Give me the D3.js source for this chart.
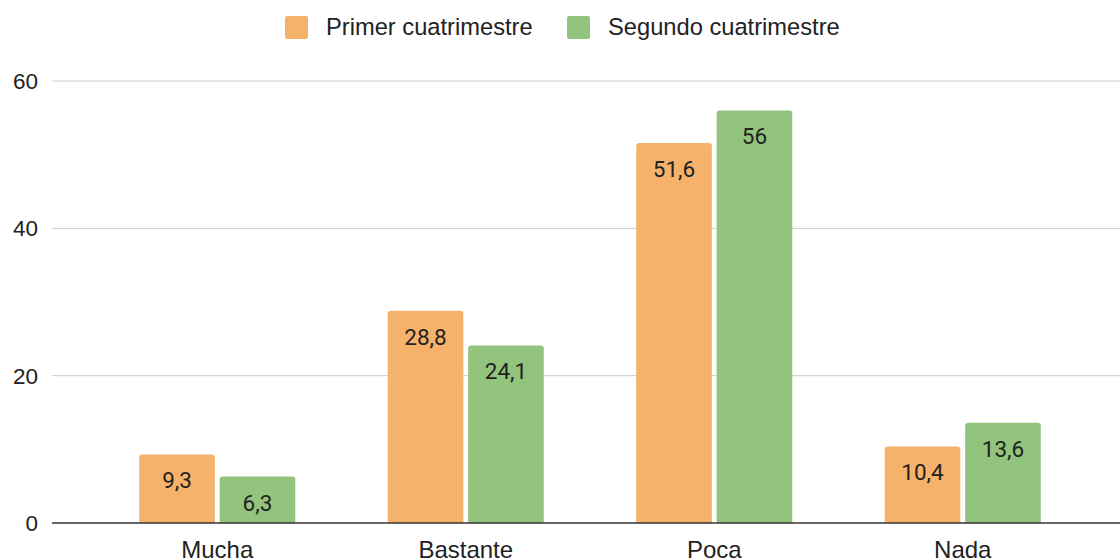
<!DOCTYPE html>
<html>
<head>
<meta charset="utf-8">
<script src="https://cdn.jsdelivr.net/npm/d3@7"></script>
<style>
  body { margin: 0; background: #fff; }
  text { font-family: "Liberation Sans", Arial, sans-serif; fill: #222; }
  text.val { font-family: Roboto, "Liberation Sans", Arial, sans-serif; }
</style>
</head>
<body>
<svg id="chart" width="1120" height="558"></svg>
<script>
// values
var categories = ["Mucha", "Bastante", "Poca", "Nada"];
var seriesNames = ["Primer cuatrimestre", "Segundo cuatrimestre"];
var primer = [9.3, 28.8, 51.6, 10.4];
var segundo = [6.3, 24.1, 56, 13.6];
var yTicks = [0, 20, 40, 60];
var colors = ["#f6b26b", "#93c47d"];

var svg = d3.select("#chart");

var x0 = d3.scaleBand()
  .domain(categories)
  .range([94, 1086])
  .paddingInner(0.372)
  .paddingOuter(0.182);

var x1 = d3.scaleBand()
  .domain(seriesNames)
  .range([0, x0.bandwidth()])
  .paddingInner(0.06);

var y = d3.scaleLinear()
  .domain([0, 60])
  .range([523, 81]);

// gridlines
svg.append("g").selectAll("line")
  .data(yTicks.filter(function(d){ return d !== 0; }))
  .enter().append("line")
  .attr("x1", 52).attr("x2", 1120)
  .attr("y1", function(d){ return y(d); })
  .attr("y2", function(d){ return y(d); })
  .attr("stroke", "#cccccc")
  .attr("stroke-width", 1);

// y tick labels
svg.append("g").selectAll("text")
  .data(yTicks)
  .enter().append("text")
  .attr("x", 38)
  .attr("y", function(d){ return y(d); })
  .attr("dy", "0.36em")
  .attr("text-anchor", "end")
  .style("font-size", "22.5px")
  .text(function(d){ return d; });

function topRounded(x, yTop, w, h, r) {
  r = Math.min(r, h, w / 2);
  return "M" + x + "," + (yTop + h) +
    "V" + (yTop + r) +
    "Q" + x + "," + yTop + " " + (x + r) + "," + yTop +
    "H" + (x + w - r) +
    "Q" + (x + w) + "," + yTop + " " + (x + w) + "," + (yTop + r) +
    "V" + (yTop + h) + "Z";
}

var rows = categories.map(function(c, i){
  return { cat: c, vals: [
    { name: seriesNames[0], v: primer[i], color: colors[0] },
    { name: seriesNames[1], v: segundo[i], color: colors[1] }
  ]};
});

var groups = svg.append("g").selectAll("g")
  .data(rows)
  .enter().append("g")
  .attr("transform", function(d){ return "translate(" + x0(d.cat) + ",0)"; });

groups.selectAll("path")
  .data(function(d){ return d.vals; })
  .enter().append("path")
  .attr("d", function(d){
    return topRounded(x1(d.name), y(d.v), x1.bandwidth(), y(0) - y(d.v), 3);
  })
  .attr("fill", function(d){ return d.color; });

groups.selectAll("text.val")
  .data(function(d){ return d.vals; })
  .enter().append("text")
  .attr("class", "val")
  .attr("x", function(d){ return x1(d.name) + x1.bandwidth() / 2; })
  .attr("y", function(d){ return y(d.v) + 34; })
  .attr("text-anchor", "middle")
  .style("font-size", "22.5px")
  .text(function(d){ return String(d.v).replace(".", ","); });

// baseline
svg.append("line")
  .attr("x1", 52).attr("x2", 1120)
  .attr("y1", y(0)).attr("y2", y(0))
  .attr("stroke", "#333333")
  .attr("stroke-width", 1.5);

// category labels
svg.append("g").selectAll("text")
  .data(categories)
  .enter().append("text")
  .attr("x", function(d){ return x0(d) + x0.bandwidth() / 2; })
  .attr("y", 558)
  .attr("text-anchor", "middle")
  .style("font-size", "24px")
  .text(function(d){ return d; });

// legend
var legendX = [285, 567];
var legend = svg.append("g").selectAll("g")
  .data(seriesNames)
  .enter().append("g")
  .attr("transform", function(d, i){ return "translate(" + legendX[i] + ",16)"; });

legend.append("rect")
  .attr("width", 23).attr("height", 23)
  .attr("rx", 2)
  .attr("fill", function(d, i){ return colors[i]; });

legend.append("text")
  .attr("x", 41)
  .attr("y", 19)
  .style("font-size", "23.7px")
  .text(function(d){ return d; });
</script>
</body>
</html>
